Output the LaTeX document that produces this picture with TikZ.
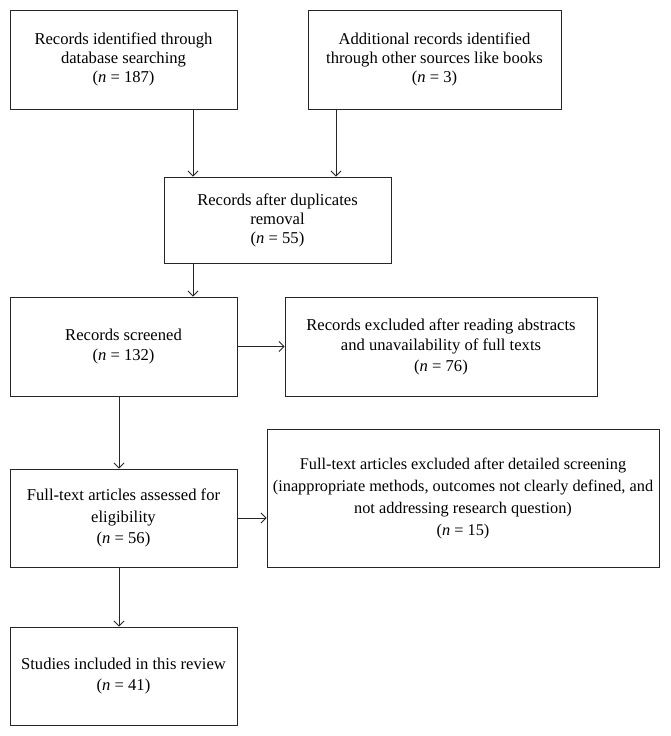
\documentclass[tikz,border=0pt]{standalone}
\usepackage{fontspec}
\setmainfont{Liberation Serif}
\usetikzlibrary{arrows.meta}
\begin{document}
\begin{tikzpicture}[x=1pt,y=-1pt,
  box/.style={draw=black!85, line width=0.9pt, rectangle, align=center, inner sep=0pt,
    font=\fontsize{16.6}{19}\selectfont, anchor=center},
  arr/.style={draw=black!85, line width=0.9pt, -{Straight Barb[length=5pt,width=10pt]}}]
\useasboundingbox (0,0) rectangle (670,736);
\node[box, minimum width=227pt, minimum height=99pt] (b1) at (123.5,59.5)
  {Records identified through\\database searching\\(\textit{n} = 187)};
\node[box, minimum width=253pt, minimum height=99pt] (b2) at (434.5,59.5)
  {Additional records identified\\through other sources like books\\(\textit{n} = 3)};
\node[box, minimum width=227pt, minimum height=86pt] (b3) at (277.5,220)
  {Records after duplicates\\removal\\(\textit{n} = 55)};
\node[box, minimum width=227pt, minimum height=99pt, font=\fontsize{16.6}{20.5}\selectfont] (b4) at (123.5,346.5)
  {Records screened\\(\textit{n} = 132)};
\node[box, minimum width=312pt, minimum height=99pt, font=\fontsize{16.6}{20.5}\selectfont] (b5) at (441,346.5)
  {Records excluded after reading abstracts\\and unavailability of full texts\\(\textit{n} = 76)};
\node[box, minimum width=227pt, minimum height=98pt, font=\fontsize{16.6}{21.5}\selectfont] (b6) at (123.5,518)
  {Full-text articles assessed for\\eligibility\\(\textit{n} = 56)};
\node[box, minimum width=392pt, minimum height=138pt, font=\fontsize{16.3}{22}\selectfont] (b7) at (463,498)
  {Full-text articles excluded after detailed screening\\(inappropriate methods, outcomes not clearly defined, and\\not addressing research question)\\(\textit{n} = 15)};
\node[box, minimum width=227pt, minimum height=98pt, font=\fontsize{16.6}{20.5}\selectfont] (b8) at (123.5,676)
  {Studies included in this review\\(\textit{n} = 41)};
\coordinate (xa) at (193,0);
\coordinate (xb) at (336,0);
\coordinate (xc) at (119,0);
\draw[arr] (b1.south -| xa) -- (b3.north -| xa);
\draw[arr] (b2.south -| xb) -- (b3.north -| xb);
\draw[arr] (b3.south -| xa) -- (b4.north -| xa);
\draw[arr] (b4.east) -- (b5.west);
\draw[arr] (b4.south -| xc) -- (b6.north -| xc);
\draw[arr] (b6.east) -- (b7.west |- b6.east);
\draw[arr] (b6.south -| xc) -- (b8.north -| xc);
\end{tikzpicture}
\end{document}
